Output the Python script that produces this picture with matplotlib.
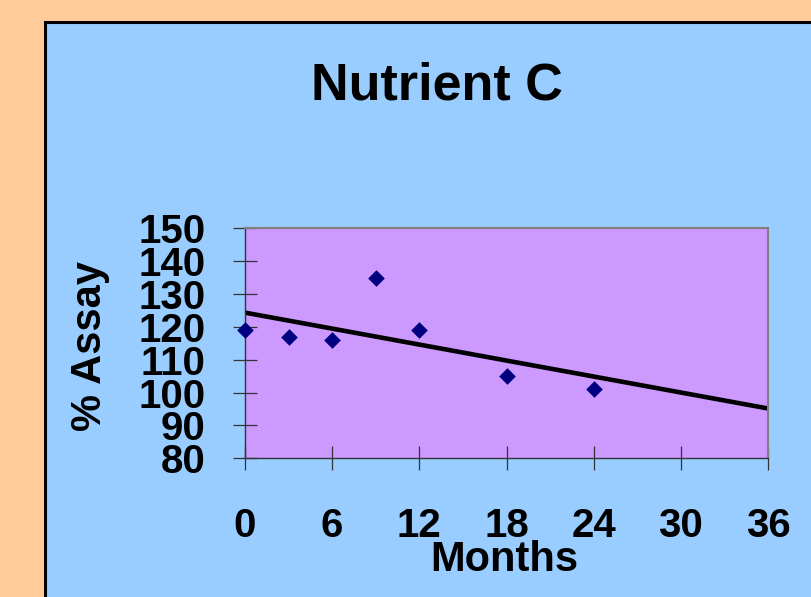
import numpy as np
import matplotlib
matplotlib.use("Agg")
import matplotlib.pyplot as plt
from matplotlib.patches import Rectangle

plt.rcParams['font.family'] = ['Liberation Sans', 'DejaVu Sans']
plt.rcParams['font.weight'] = 'bold'

# ---- data ----
title = "Nutrient C"
x_label = "Months"
y_label = "% Assay"
months = [0, 3, 6, 9, 12, 18, 24]
assay = [119, 117, 116, 135, 119, 105, 101]
x_ticks = [0, 6, 12, 18, 24, 30, 36]
y_ticks = [80, 90, 100, 110, 120, 130, 140, 150]
trend_range = [0, 36]

# ---- colours ----
bg_orange = "#FFCC99"
panel_blue = "#99CCFF"
plot_purple = "#CC99FF"
marker_navy = "#000080"

W, H = 811, 597
fig = plt.figure(figsize=(W / 100, H / 100), dpi=100, facecolor=bg_orange)

# blue chart panel (extends beyond right and bottom edges)
panel = Rectangle((45 / W, -0.05), 1.2, 1 - 22 / H + 0.05, transform=fig.transFigure,
                  facecolor=panel_blue, edgecolor='black', linewidth=2.2, zorder=-5)
fig.patches.append(panel)

left, right = 245 / W, 768 / W
bottom, top = 1 - 458.3 / H, 1 - 228.3 / H
ax = fig.add_axes([left, bottom, right - left, top - bottom])
ax.set_zorder(1)
ax.set_facecolor(plot_purple)

ax.scatter(months, assay, marker='D', s=72, color=marker_navy, zorder=3, clip_on=False,
           linewidths=0)

slope, intercept = np.polyfit(months, assay, 1)
tx = np.array(trend_range, dtype=float)
ax.plot(tx, slope * tx + intercept, color='black', linewidth=3.3, zorder=2,
        solid_capstyle='butt')

ax.set_xlim(0, 36)
ax.set_ylim(80, 150)
ax.set_xticks(x_ticks)
ax.set_yticks(y_ticks)

for s in ['top', 'right']:
    ax.spines[s].set_color('#808080')
    ax.spines[s].set_linewidth(1.5)
for s in ['left', 'bottom']:
    ax.spines[s].set_color('#333333')
    ax.spines[s].set_linewidth(1.0)

ax.tick_params(axis='both', direction='inout', length=17.3, width=0.9, color='#333333')
ax.tick_params(axis='y', labelsize=29, pad=20)
ax.tick_params(axis='x', labelsize=29, pad=26.5)
for lab in ax.get_xticklabels() + ax.get_yticklabels():
    lab.set_fontweight('bold')

ax.set_xlabel(x_label, fontsize=30, fontweight='bold')
ax.xaxis.label.set_va('baseline')
ax.xaxis.set_label_coords((504 - 245) / 523, (458.3 - 570.7) / 230)

ax.set_ylabel(y_label, fontsize=30, fontweight='bold')
ax.yaxis.label.set_rotation_mode('anchor')
ax.yaxis.label.set_ha('center')
ax.yaxis.label.set_va('baseline')
ax.yaxis.set_label_coords((101 - 245) / 523, (458.3 - 345.8) / 230)

fig.text(436.7 / W, 1 - 100 / H, title, ha='center', va='baseline',
         fontsize=37.5, fontweight='bold')

fig.savefig("out.png", dpi=100, facecolor=bg_orange)
